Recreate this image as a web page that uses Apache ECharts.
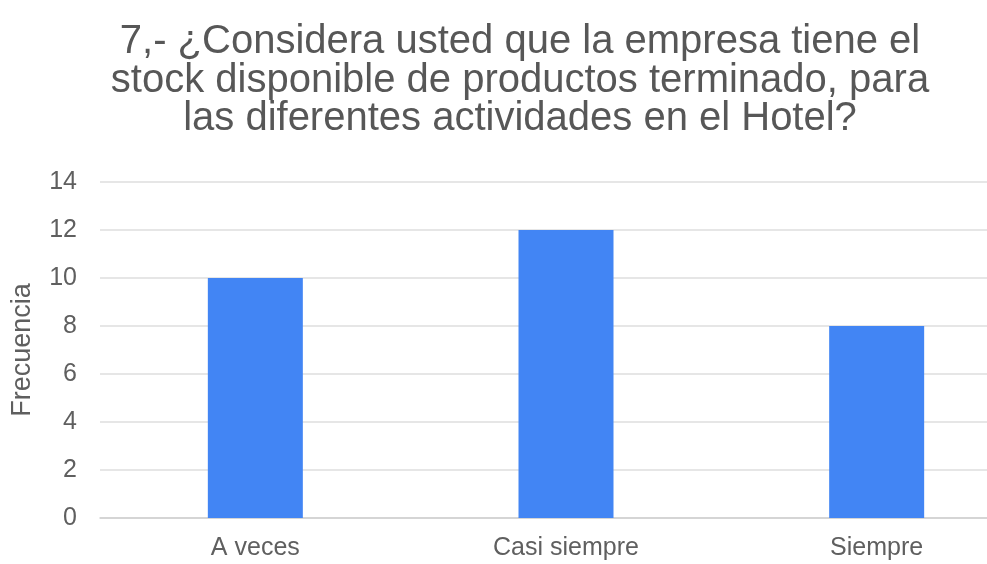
<!DOCTYPE html>
<html>
<head>
<meta charset="utf-8">
<script src="https://cdn.jsdelivr.net/npm/echarts@6/dist/echarts.min.js"></script>
<style>
  html, body { margin: 0; padding: 0; background: #fff; overflow: hidden; }
  /* el gráfico original está recortado por la derecha */
  #chart { width: 1032px; height: 564px; }
</style>
</head>
<body>
<div id="chart"></div>
<script>
// datos del gráfico
const titulo = '7,- ¿Considera usted que la empresa tiene el\nstock disponible de productos terminado, para\nlas diferentes actividades en el Hotel?';
const categorias = ['A veces', 'Casi siempre', 'Siempre'];
const frecuencias = [10, 12, 8];
const ejeY = { min: 0, max: 14, interval: 2 };

const chart = echarts.init(document.getElementById('chart'));

chart.setOption({
  animation: false,
  textStyle: { fontFamily: 'Liberation Sans, Arial, sans-serif' },
  title: {
    text: titulo,
    left: 515,
    textAlign: 'center',
    top: 18,
    textStyle: {
      fontSize: 40,
      fontWeight: 'normal',
      color: '#575757',
      lineHeight: 38.5
    }
  },
  grid: {
    left: 100,
    right: 0,
    top: 182,
    bottom: 46
  },
  xAxis: {
    type: 'category',
    data: categorias,
    axisTick: { show: false },
    axisLine: { lineStyle: { color: '#cfcfcf', width: 1.5 } },
    axisLabel: { color: '#5f5f5f', fontSize: 25, margin: 18 }
  },
  yAxis: {
    type: 'value',
    min: ejeY.min,
    max: ejeY.max,
    interval: ejeY.interval,
    name: 'Frecuencia',
    nameLocation: 'middle',
    nameGap: 64,
    nameTextStyle: { color: '#5f5f5f', fontSize: 27 },
    axisLabel: { color: '#5f5f5f', fontSize: 25, margin: 23 },
    splitLine: { lineStyle: { color: '#dedede', width: 1.5 } }
  },
  series: [{
    type: 'bar',
    data: frecuencias,
    barWidth: 95,
    itemStyle: { color: '#4285f4' }
  }]
});
</script>
</body>
</html>
